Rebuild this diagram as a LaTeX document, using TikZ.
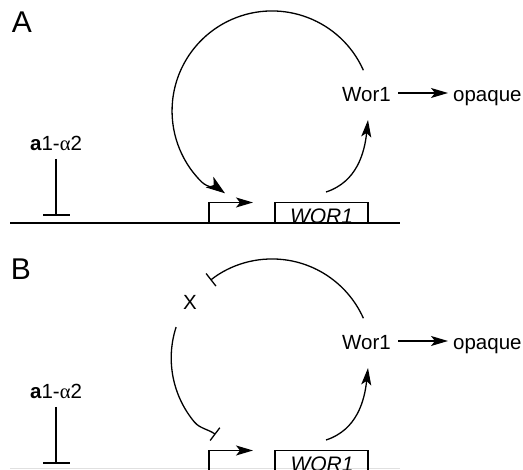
\documentclass[tikz,border=0pt]{standalone}
\usepackage{fontspec}
\setmainfont{Liberation Sans}
\newfontfamily\grfont{Liberation Serif}
\usetikzlibrary{arrows.meta}
\begin{document}
\begin{tikzpicture}[x=1pt,y=1pt,
  lbl/.style={inner sep=0pt, anchor=base, font=\fontsize{20.5}{24}\selectfont},
  panel/.style={inner sep=0pt, anchor=base, font=\fontsize{30}{34}\selectfont},
  gene/.style={inner sep=0pt, anchor=base, font=\fontsize{21}{24}\selectfont\itshape},
  wire/.style={line width=1.3pt},
  dna/.style={line width=2pt},
  arr/.style={wire, -{Stealth[length=17pt,width=10pt,inset=4pt]}},
  bigarr/.style={wire, -{Stealth[length=19pt,width=13pt,inset=5pt]}},
  inh/.style={wire, -{Bar[width=16pt,line width=1.3pt]}},
]
\useasboundingbox (0,0) rectangle (523,470);
\clip (0,0) rectangle (523,470);

% ================= Panel A =================
\node[panel] (labA) at (22,437) {A};
\node[lbl] (repA) at (56,319) {\textbf{a}1-{\grfont α}2};
\coordinate (tA1) at (56,311);
\coordinate (tA2) at (56,255);
\draw[wire] (tA1) -- (tA2);
\draw[wire] (43,255) -- (70,255);
\coordinate (dnaA1) at (10,247);
\coordinate (dnaA2) at (400,247);
\draw[dna] (dnaA1) -- (dnaA2);
\coordinate (prA) at (209,247);
\coordinate (prAe) at (253,267.5);
\draw[arr] (prA) |- (prAe);
\draw[wire] (275,247) rectangle (368,267.5);
\node[gene] (geneA) at (321.5,246) {WOR1};
\node[lbl] (worA) at (366.5,368.3) {Wor1};
\node[lbl, anchor=base west] (opA) at (453,368.3) {opaque};
\coordinate (oA1) at (398,377);
\coordinate (oA2) at (448,377);
\draw[arr] (oA1) -- (oA2);
% big activating arc
\coordinate (bigA1) at (363.4,399.7);
\coordinate (bigA2) at (225,276.7);
\draw[bigarr] (bigA1) arc[start angle=24,end angle=225,radius=100]
  .. controls +(-45:9) and +(144:8) .. (bigA2);
% small arc from gene to protein
\coordinate (smA1) at (326,278);
\coordinate (smA2) at (368,350);
\draw[arr] (smA1) to[out=18,in=-96] (smA2);

% ================= Panel B =================
\node[panel] (labB) at (21,190) {B};
\node[lbl] (repB) at (56,71) {\textbf{a}1-{\grfont α}2};
\coordinate (tB1) at (56,63);
\coordinate (tB2) at (56,7);
\draw[wire] (tB1) -- (tB2);
\draw[wire] (43,7) -- (70,7);
\draw[line width=1.2pt, black!12] (10,1.5) -- (400,1.5);
\coordinate (prB) at (209,-2);
\coordinate (prBe) at (253,19.5);
\draw[arr] (prB) |- (prBe);
\draw[wire] (275,-2) rectangle (368,19.5);
\node[gene] (geneB) at (322,-2) {WOR1};
\node[lbl] (worB) at (366.5,120.3) {Wor1};
\node[lbl, anchor=base west] (opB) at (453,120.3) {opaque};
\coordinate (oB1) at (398,129);
\coordinate (oB2) at (448,129);
\draw[arr] (oB1) -- (oB2);
% Wor1 inhibits X
\coordinate (inB1) at (363.4,151.7);
\node[lbl, anchor=center] (xB) at (190,168) {X};
\draw[inh] (inB1) arc[start angle=24,end angle=128,radius=100];
% X inhibits WOR1 promoter
\coordinate (xB1) at (176.1,142.9);
\coordinate (xB2) at (215.5,35.5);
\draw[inh] (xB1) arc[start angle=162,end angle=220,radius=100]
  .. controls +(-50:8) and +(143:8) .. (xB2);
% small arc
\coordinate (smB1) at (326,30);
\coordinate (smB2) at (368,102);
\draw[arr] (smB1) to[out=18,in=-96] (smB2);
\end{tikzpicture}
\end{document}
